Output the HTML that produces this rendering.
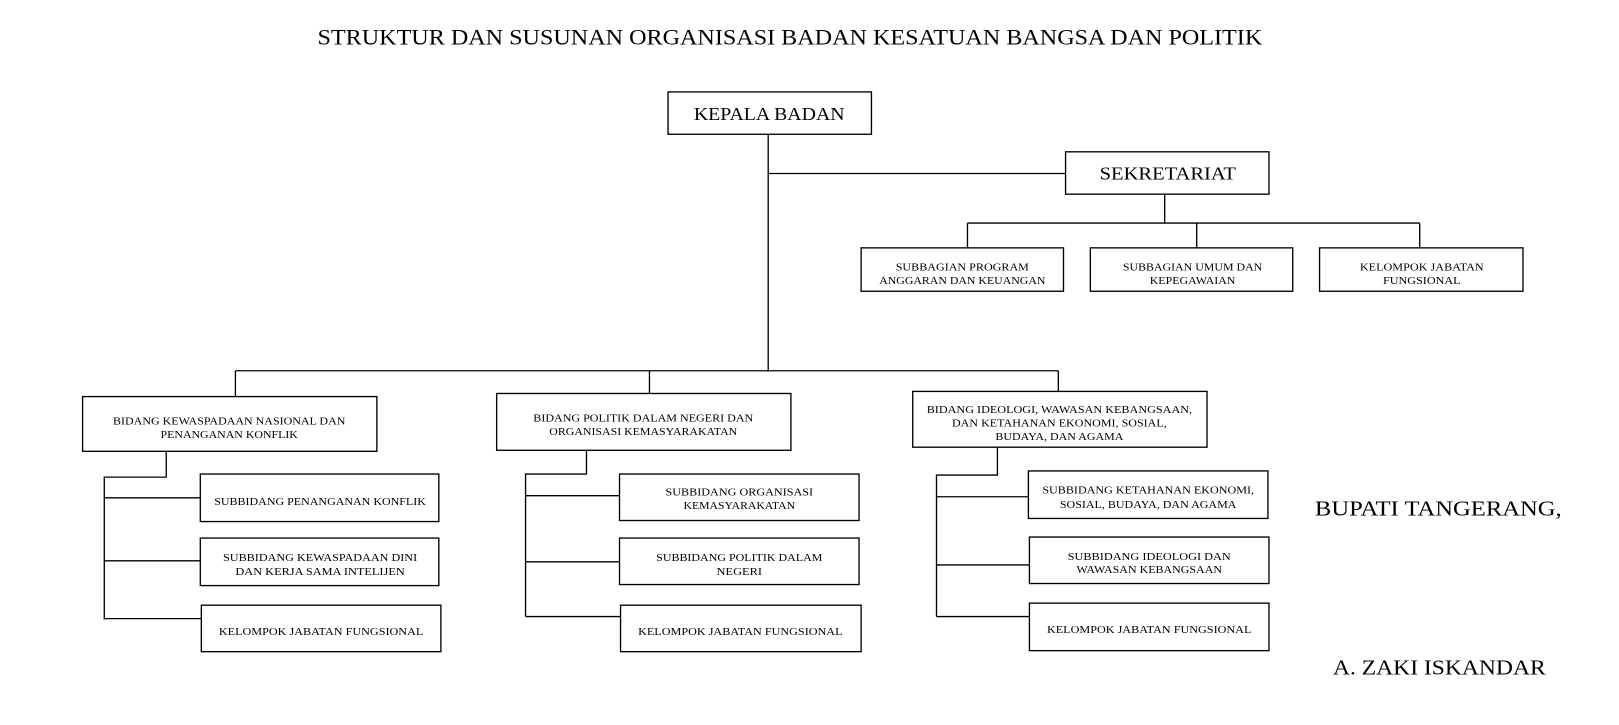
<!DOCTYPE html>
<html><head><meta charset="utf-8"><style>
html,body{margin:0;padding:0;background:#fff;width:1619px;height:725px;overflow:hidden}
svg{display:block}
text{font-family:"Liberation Serif",serif;fill:#000;text-anchor:middle}
.s{font-size:10px}
</style></head><body>
<svg width="1619" height="725" viewBox="0 0 1568 702" preserveAspectRatio="none">
<g stroke="#000" stroke-width="1.3" fill="none">
<rect x="647" y="89" width="197" height="41"/>
<rect x="1032" y="147" width="197" height="41"/>
<rect x="834" y="240" width="196" height="42"/>
<rect x="1056" y="240" width="196" height="42"/>
<rect x="1278" y="240" width="197" height="42"/>
<rect x="80" y="384" width="285" height="53"/>
<rect x="481" y="381" width="285" height="55"/>
<rect x="884" y="379" width="285" height="54"/>
<rect x="194" y="459" width="231" height="46"/>
<rect x="194" y="521" width="231" height="46"/>
<rect x="195" y="586" width="232" height="45"/>
<rect x="600" y="459" width="232" height="45"/>
<rect x="600" y="521" width="232" height="45"/>
<rect x="601" y="586" width="233" height="45"/>
<rect x="996" y="456" width="232" height="46"/>
<rect x="997" y="520" width="232" height="45"/>
<rect x="997" y="584" width="232" height="46"/>
<path d="M744 130V360M744 168H1032M1128 188V216M937 216H1375M937 216V240M1159 216V240M1375 216V240"/>
<path d="M228 359H1025M228 359V384M629 359V381M1025 359V379"/>
<path d="M161 437V462H101V600M101 482H194M101 543H194M101 599H195"/>
<path d="M568 436V459H509V597M509 480H600M509 544H600M509 597H601"/>
<path d="M966 433V460H907V597M907 481H996M907 547H997M907 597H997"/>
</g>
<text x="765" y="43" font-size="21" textLength="915" lengthAdjust="spacingAndGlyphs">STRUKTUR DAN SUSUNAN ORGANISASI BADAN KESATUAN BANGSA DAN POLITIK</text>
<text x="745" y="116" font-size="17" textLength="146" lengthAdjust="spacingAndGlyphs">KEPALA BADAN</text>
<text x="1131" y="174" font-size="17" textLength="132" lengthAdjust="spacingAndGlyphs">SEKRETARIAT</text>
<g class="s">
<text x="932" y="262" textLength="129" lengthAdjust="spacingAndGlyphs">SUBBAGIAN PROGRAM</text>
<text x="932" y="275" textLength="161" lengthAdjust="spacingAndGlyphs">ANGGARAN DAN KEUANGAN</text>
<text x="1155" y="262" textLength="135" lengthAdjust="spacingAndGlyphs">SUBBAGIAN UMUM DAN</text>
<text x="1155" y="275" textLength="83" lengthAdjust="spacingAndGlyphs">KEPEGAWAIAN</text>
<text x="1377" y="262" textLength="120" lengthAdjust="spacingAndGlyphs">KELOMPOK JABATAN</text>
<text x="1377" y="275" textLength="75" lengthAdjust="spacingAndGlyphs">FUNGSIONAL</text>
<text x="222" y="411" textLength="225" lengthAdjust="spacingAndGlyphs">BIDANG KEWASPADAAN NASIONAL DAN</text>
<text x="222" y="424" textLength="133" lengthAdjust="spacingAndGlyphs">PENANGANAN KONFLIK</text>
<text x="623" y="408" textLength="213" lengthAdjust="spacingAndGlyphs">BIDANG POLITIK DALAM NEGERI DAN</text>
<text x="623" y="421" textLength="182" lengthAdjust="spacingAndGlyphs">ORGANISASI KEMASYARAKATAN</text>
<text x="1026" y="400" textLength="257" lengthAdjust="spacingAndGlyphs">BIDANG IDEOLOGI, WAWASAN KEBANGSAAN,</text>
<text x="1026" y="413" textLength="208" lengthAdjust="spacingAndGlyphs">DAN KETAHANAN EKONOMI, SOSIAL,</text>
<text x="1026" y="426" textLength="124" lengthAdjust="spacingAndGlyphs">BUDAYA, DAN AGAMA</text>
<text x="310" y="489" textLength="205" lengthAdjust="spacingAndGlyphs">SUBBIDANG PENANGANAN KONFLIK</text>
<text x="310" y="543" textLength="188" lengthAdjust="spacingAndGlyphs">SUBBIDANG KEWASPADAAN DINI</text>
<text x="310" y="557" textLength="164" lengthAdjust="spacingAndGlyphs">DAN KERJA SAMA INTELIJEN</text>
<text x="311" y="615" textLength="198" lengthAdjust="spacingAndGlyphs">KELOMPOK JABATAN FUNGSIONAL</text>
<text x="716" y="480" textLength="143" lengthAdjust="spacingAndGlyphs">SUBBIDANG ORGANISASI</text>
<text x="716" y="493" textLength="108" lengthAdjust="spacingAndGlyphs">KEMASYARAKATAN</text>
<text x="716" y="543" textLength="161" lengthAdjust="spacingAndGlyphs">SUBBIDANG POLITIK DALAM</text>
<text x="716" y="557" textLength="44" lengthAdjust="spacingAndGlyphs">NEGERI</text>
<text x="717" y="615" textLength="198" lengthAdjust="spacingAndGlyphs">KELOMPOK JABATAN FUNGSIONAL</text>
<text x="1112" y="478" textLength="205" lengthAdjust="spacingAndGlyphs">SUBBIDANG KETAHANAN EKONOMI,</text>
<text x="1112" y="492" textLength="171" lengthAdjust="spacingAndGlyphs">SOSIAL, BUDAYA, DAN AGAMA</text>
<text x="1113" y="542" textLength="158" lengthAdjust="spacingAndGlyphs">SUBBIDANG IDEOLOGI DAN</text>
<text x="1113" y="555" textLength="141" lengthAdjust="spacingAndGlyphs">WAWASAN KEBANGSAAN</text>
<text x="1113" y="613" textLength="198" lengthAdjust="spacingAndGlyphs">KELOMPOK JABATAN FUNGSIONAL</text>
</g>
<text x="1393" y="499" font-size="20" textLength="239" lengthAdjust="spacingAndGlyphs">BUPATI TANGERANG,</text>
<text x="1394" y="653" font-size="20" textLength="206" lengthAdjust="spacingAndGlyphs">A. ZAKI ISKANDAR</text>
</svg>
</body></html>
